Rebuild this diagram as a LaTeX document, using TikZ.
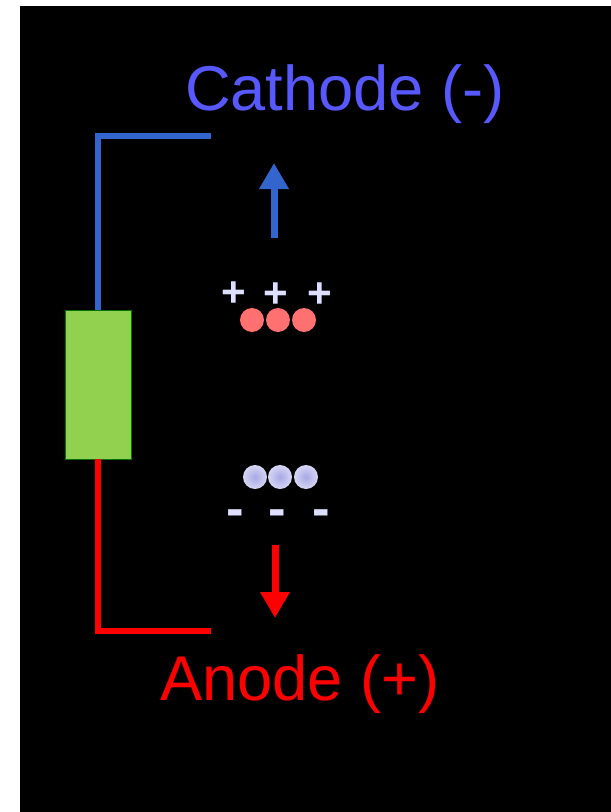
\documentclass[tikz,border=0pt]{standalone}
\usepackage{fontspec}
\setmainfont{Liberation Sans}
\usetikzlibrary{arrows.meta}
\definecolor{wireblue}{RGB}{51,102,204}
\definecolor{textblue}{RGB}{88,88,255}
\definecolor{cellgreen}{RGB}{146,208,80}
\definecolor{ionred}{RGB}{255,112,112}
\definecolor{ionlav}{RGB}{214,214,244}
\definecolor{ionlavin}{RGB}{168,168,230}
\definecolor{signcol}{RGB}{222,222,255}
\begin{document}
\begin{tikzpicture}[
    x=0.02cm, y=-0.02cm,
    cell/.style={rectangle, draw=green!45!black, line width=0.4pt, fill=cellgreen,
                 minimum width=1.32cm, minimum height=2.98cm, inner sep=0pt},
    wire/.style={line width=0.12cm, line join=miter},
    arr/.style={line width=0.14cm, -{Triangle[length=0.52cm, width=0.56cm]}},
    label/.style={font=\fontsize{36}{40}\selectfont, anchor=base, inner sep=0pt},
    ion/.style={circle, minimum size=0.48cm, inner sep=0pt},
    sign/.style={text=signcol, anchor=base, inner sep=0pt},
]
    \useasboundingbox (0,0) rectangle (611,812);
    \fill[black] (20,6) rectangle (611,812);

    \node[label, text=textblue] (cathode) at (345,110) {Cathode (-)};
    \node[label, text=red]      (anode)   at (300,700) {Anode (+)};

    \node[cell] (cell) at (98,384.5) {};
    \coordinate (cathend) at (211,136);
    \coordinate (anodend) at (211,631);
    \draw[wire, wireblue] (cell.north) |- (cathend);
    \draw[wire, red]      (cell.south) |- (anodend);

    \coordinate (upfrom)   at (274,238);
    \coordinate (upto)     at (274,163);
    \coordinate (downfrom) at (275,545);
    \coordinate (downto)   at (275,618);
    \draw[arr, wireblue] (upfrom) -- (upto);
    \draw[arr, red]      (downfrom) -- (downto);

    \node[sign, font=\bfseries\fontsize{24}{28}\selectfont] (p1) at (234,306) {+};
    \node[sign, font=\bfseries\fontsize{24}{28}\selectfont] (p2) at (276,307) {+};
    \node[sign, font=\bfseries\fontsize{24}{28}\selectfont] (p3) at (320,307) {+};

    \node[ion, fill=ionred] (r1) at (252,320) {};
    \node[ion, fill=ionred] (r2) at (278,320) {};
    \node[ion, fill=ionred] (r3) at (304,320) {};

    \node[ion, shading=radial, inner color=ionlavin, outer color=ionlav] (b1) at (255,477) {};
    \node[ion, shading=radial, inner color=ionlavin, outer color=ionlav] (b2) at (280,477) {};
    \node[ion, shading=radial, inner color=ionlavin, outer color=ionlav] (b3) at (306,477) {};

    \node[sign, font=\bfseries\fontsize{30}{34}\selectfont] (m1) at (235,526) {-};
    \node[sign, font=\bfseries\fontsize{30}{34}\selectfont] (m2) at (277,526) {-};
    \node[sign, font=\bfseries\fontsize{30}{34}\selectfont] (m3) at (321,526) {-};
\end{tikzpicture}
\end{document}
